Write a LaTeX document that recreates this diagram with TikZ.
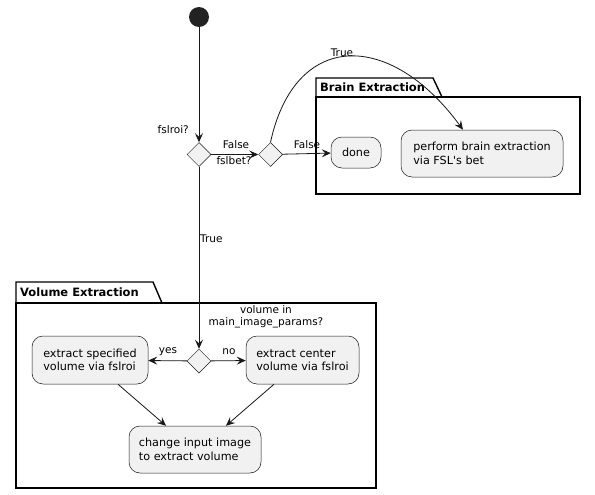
\documentclass[tikz,border=0pt]{standalone}
\usepackage{fontspec}
\setmainfont{DejaVu Sans}[Ligatures=TeXOff]
\usetikzlibrary{arrows.meta,shapes.geometric}
\definecolor{boxfill}{HTML}{F1F1F1}
\definecolor{boxline}{HTML}{181818}
\definecolor{startfill}{HTML}{222222}
\tikzset{
  act/.style={draw=boxline, fill=boxfill, line width=0.5pt, rounded corners=11pt, align=left, inner sep=0pt,
    font=\fontsize{11.2}{13.6}\selectfont},
  dec/.style={draw=boxline, fill=boxfill, line width=0.5pt, diamond, minimum width=24pt, minimum height=24pt, inner sep=0pt},
  lbl/.style={font=\fontsize{10.5}{12.5}\selectfont, inner sep=0pt},
  pkgtitle/.style={font=\bfseries\fontsize{11.5}{13}\selectfont, inner sep=0pt, anchor=west},
  pkg/.style={draw=black, line width=1.4pt},
  flow/.style={draw=boxline, line width=0.8pt, -{Stealth[length=9pt,width=8pt,inset=3.5pt]}},
}
\begin{document}
\begin{tikzpicture}[x=1pt,y=-1pt]
\useasboundingbox (0,0) rectangle (595,495);
\fill[white] (0,0) rectangle (595,495);
% packages
\draw[pkg] (316,97) -- (316,78) -- (433,78) -- (442,97);
\draw[pkg] (316,97) rectangle (580,194);
\node[pkgtitle] (brainT) at (320,87.5) {Brain Extraction};
\draw[pkg] (16,303) -- (16,282) -- (153,282) -- (162,303);
\draw[pkg] (16,303) rectangle (376,488);
\node[pkgtitle] (volT) at (20,292.5) {Volume Extraction};
% nodes
\node[circle, fill=startfill, minimum size=20pt, inner sep=0pt] (start) at (199,17) {};
\node[dec] (d1) at (199,154.5) {};
\node[dec] (d2) at (270.5,154.5) {};
\node[act, minimum width=50pt, minimum height=31pt, align=center] (done) at (356,152.5) {done};
\node[act, minimum width=162pt, minimum height=47pt] (perform) at (482,153.5) {perform brain extraction\\via FSL's bet};
\node[dec] (d3) at (199,361) {};
\node[act, minimum width=116pt, minimum height=48pt] (spec) at (90,360) {extract specified\\volume via fslroi};
\node[act, minimum width=113pt, minimum height=48pt] (center) at (302.5,360) {extract center\\volume via fslroi};
\node[act, minimum width=132pt, minimum height=47pt] (change) at (195,449.5) {change input image\\to extract volume};
% labels
\node[lbl, anchor=east] (lroi) at (189,130) {fslroi?};
\node[lbl] (lf1) at (236,145) {False};
\node[lbl] (lbet) at (234,161) {fslbet?};
\node[lbl] (lf2) at (307,145) {False};
\node[lbl] (ltrue1) at (342,53) {True};
\node[lbl, anchor=west] (ltrue2) at (200,239) {True};
\node[lbl, align=center] (lvol) at (266,316.5) {volume in\\main\_image\_params?};
\node[lbl] (lyes) at (168,352) {yes};
\node[lbl] (lno) at (229,352) {no};
% connectors
\draw[flow] (start) -- (d1);
\draw[flow] (d1) -- (d2);
\draw[flow] (d2) -- (done);
\draw[flow] (d2.north) .. controls (295,30) and (390,30) .. (perform.north -| 463,0);
\draw[flow] (d1) -- (d3);
\draw[flow] (d3) -- (spec);
\draw[flow] (d3) -- (center);
\draw[flow] (spec.south -| 118,0) -- (change.north -| 166,0);
\draw[flow] (center.south -| 274,0) -- (change.north -| 226,0);
\end{tikzpicture}
\end{document}
